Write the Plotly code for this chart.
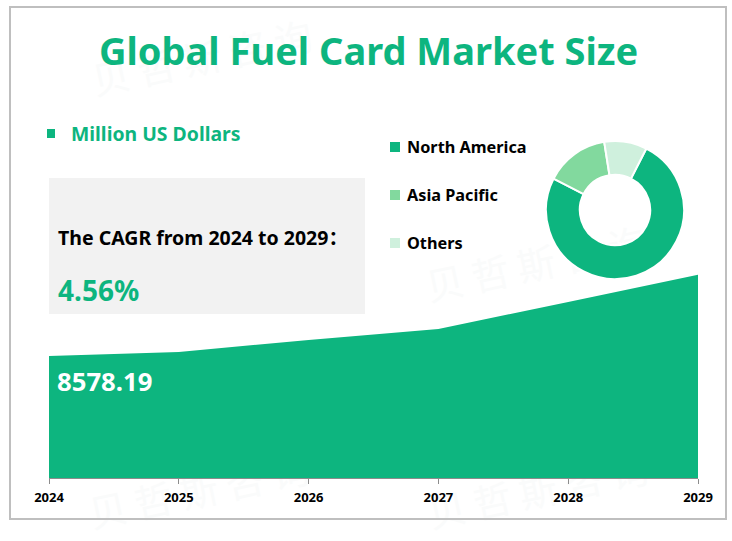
import plotly.graph_objects as go

W = 732
H = 541

years = [2024, 2025, 2026, 2027, 2028, 2029]
market_size = [8578.19, 8684, 9000, 9290, 10003, 10718]
regions = ["North America", "Asia Pacific", "Others"]
region_share = [75, 15, 10]
region_colors = ["#0DB57F", "#82D99E", "#CFF0DD"]
watermark = "贝 哲 斯 咨 询"
watermark_spots = [(203, 62), (537, 268), (203, 268), (200, 495), (539, 495)]

GREEN = "#0DB57F"
FONT = "Noto Sans, Noto Sans CJK SC, sans-serif"


# pixel positions from the top-left corner -> paper coords
def px(x):
    return x / W


def py(y):
    return 1 - y / H


def text(x, y, s, size, color, anchor="left"):
    fig.add_annotation(
        x=px(x), y=py(y), xref="paper", yref="paper", text="<b>%s</b>" % s,
        showarrow=False, xanchor=anchor, yanchor="middle",
        font=dict(family=FONT, size=size, color=color),
    )


def box(x0, y0, x1, y1, fill, line=None, width=0, layer="below"):
    fig.add_shape(
        type="rect", xref="paper", yref="paper", layer=layer,
        x0=px(x0), y0=py(y0), x1=px(x1), y1=py(y1),
        fillcolor=fill, line=dict(color=line, width=width),
    )


fig = go.Figure()

# faint watermark goes under everything else
for cx, cy in watermark_spots:
    fig.add_shape(
        type="rect", xref="paper", yref="paper", layer="below",
        x0=px(cx - 130), y0=py(cy - 30), x1=px(cx + 130), y1=py(cy + 30),
        fillcolor="rgba(0,0,0,0)", line=dict(width=0),
        label=dict(
            text=watermark, textangle=-12, textposition="middle center",
            font=dict(family="Noto Sans CJK SC", size=38, color="#FAFBFB"),
        ),
    )

fig.add_trace(go.Scatter(
    x=years, y=market_size, mode="lines", fill="tozeroy",
    fillcolor=GREEN, line=dict(color=GREEN, width=0), hoverinfo="skip",
))

fig.add_trace(go.Pie(
    labels=regions, values=region_share, hole=0.51, sort=False,
    direction="clockwise", rotation=27, textinfo="none",
    marker=dict(colors=region_colors, line=dict(color="white", width=2)),
    domain=dict(x=[px(546), px(684)], y=[py(279), py(141)]),
))

# frame and panel
box(10, 7, 726, 519, "rgba(0,0,0,0)", "#BFBFBF", 2)
box(49, 178, 365, 314, "#F2F2F2")

text(368, 50, "Global Fuel Card Market Size", 38, GREEN, "center")

box(47, 129, 55, 138, GREEN)
text(69, 133, "Million US Dollars", 19.4, GREEN)

text(56, 237, "The CAGR from 2024 to 2029：", 19.5, "#000000")
text(56, 290, "4.56%", 28, GREEN)
text(55, 381, "8578.19", 25.7, "#FFFFFF")

for i, name in enumerate(regions):
    y = 147 + i * 48
    box(390, y - 5, 400, y + 5, region_colors[i])
    text(405, y, name, 16.25, "#000000")

fig.update_layout(
    width=W, height=H, showlegend=False,
    margin=dict(l=0, r=0, t=0, b=0),
    paper_bgcolor="white", plot_bgcolor="rgba(0,0,0,0)",
    font=dict(family=FONT),
    xaxis=dict(
        domain=[px(49), px(698)], range=[2024, 2029], dtick=1, automargin=False,
        showgrid=False, zeroline=False, showline=True, linecolor="#8C8C8C",
        linewidth=1, ticks="outside", ticklen=5, tickcolor="#8C8C8C",
        ticklabelstandoff=2,
        tickfont=dict(family=FONT, size=13, color="#000000", weight="bold"),
    ),
    yaxis=dict(
        domain=[py(478), py(270)], range=[5355, 10846], automargin=False,
        visible=False, showgrid=False, zeroline=False,
    ),
)

fig.write_html("out.html", config=dict(displayModeBar=False),
               post_script="document.body.style.margin='0';")
